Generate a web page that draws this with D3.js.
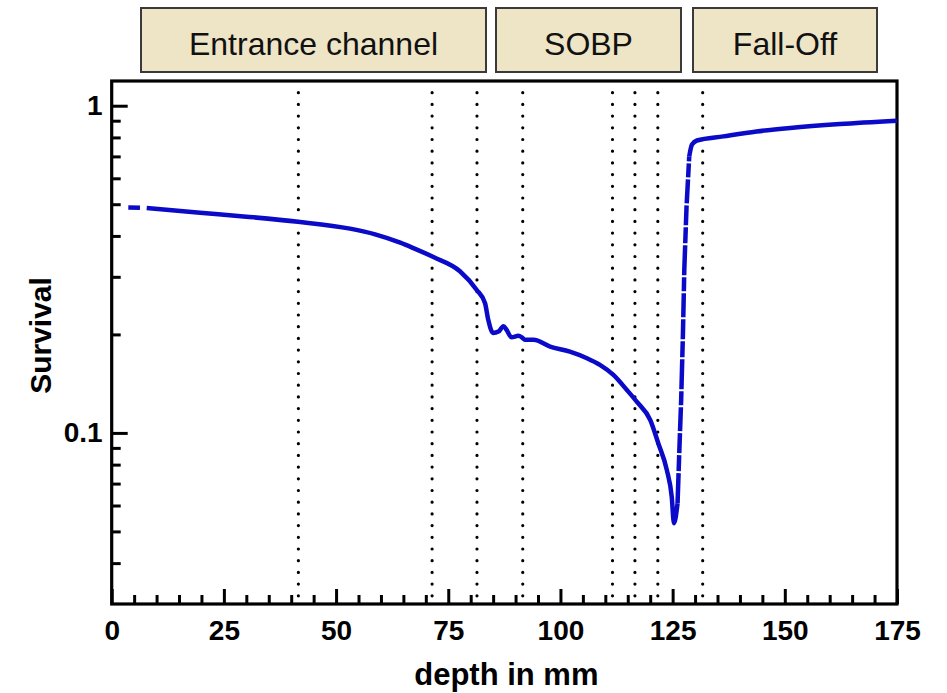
<!DOCTYPE html>
<html><head><meta charset="utf-8">
<script src="https://cdn.jsdelivr.net/npm/d3@7"></script>
<style>body{margin:0;background:#fff}svg{display:block}text{font-family:"Liberation Sans",Arial,sans-serif}</style>
</head><body><div id="chart"></div>
<script>
// ---- data ----
const depth = [3.7, 6.3, null, 7.8, 19.7, 30.0, 41.5, 53.1, 58.7, 64.3, 67.1, 71.7, 77.6, 81.3, 83.2, 83.9, 85.0, 86.2, 87.3, 88.0, 89.1, 90.6, 91.4, 92.1, 94.0, 97.7, 102.1, 105.9, 108.8, 111.8, 114.8, 117.0, 120.0, 121.8, 123.7, 124.8, 125.3, 126.1, 126.5, 126.9, 127.3, 127.6, 128.1, 128.7, 129.3, 130.4, 136.3, 143.7, 151.2, 162.3, 175];
const survival = [0.489, 0.488, null, 0.487, 0.471, 0.458, 0.442, 0.421, 0.4046, 0.3815, 0.3678, 0.3447, 0.312, 0.274, 0.249, 0.222, 0.202, 0.204, 0.212, 0.2065, 0.196, 0.198, 0.196, 0.1925, 0.1925, 0.1836, 0.1772, 0.1692, 0.1614, 0.1504, 0.1353, 0.1246, 0.1096, 0.093, 0.0771, 0.0638, 0.053, 0.061, 0.0887, 0.126, 0.2018, 0.315, 0.492, 0.70, 0.76, 0.783, 0.806, 0.834, 0.855, 0.879, 0.90];
const dottedDepths = [41.6, 71.4, 81.4, 91.6, 111.6, 116.6, 121.7, 131.7];
const regionLabels = ["Entrance channel", "SOBP", "Fall-Off"];
const xMajorTicks = [0, 25, 50, 75, 100, 125, 150, 175];
const xMinorTicks = [5,10,15,20,30,35,40,45,55,60,65,70,80,85,90,95,105,110,115,120,130,135,140,145,155,160,165,170];
const yMajorTicks = [0.1, 1];
const yMajorLabels = ["0.1", "1"];
const yMinorTicks = [0.04,0.05,0.06,0.07,0.08,0.09,0.2,0.3,0.4,0.5,0.6,0.7,0.8,0.9];
const riseRange = [126.1, 128.7]; // sparse-sampled steep rise, drawn dashed

// ---- layout ----
const W = 947, H = 693;
const L = 111.7, R = 897, T = 81, B = 604;
const svg = d3.select("#chart").append("svg").attr("width", W).attr("height", H);

const x = d3.scaleLinear().domain([0, 175]).range([L, R]);
const y = d3.scaleLog().domain([0.03, 1.19]).range([B, T]);

// region boxes
const boxes = [[141, 486], [496, 681], [693, 877]];
const bg = svg.append("g");
boxes.forEach((b, i) => {
  bg.append("rect").attr("x", b[0]).attr("y", 8).attr("width", b[1]-b[0]).attr("height", 64)
    .attr("fill", "#eee4c6").attr("stroke", "#3a3a3a").attr("stroke-width", 2);
  bg.append("text").attr("x", (b[0]+b[1])/2).attr("y", 55).attr("text-anchor", "middle")
    .attr("font-size", 32).attr("fill", "#111").text(regionLabels[i]);
});

// dotted verticals
svg.append("g").selectAll("line").data(dottedDepths).join("line")
  .attr("x1", d => x(d)).attr("x2", d => x(d)).attr("y1", 92.7).attr("y2", 600)
  .attr("stroke", "#000").attr("stroke-width", 3.2).attr("stroke-linecap", "round")
  .attr("stroke-dasharray", "0,11.7");

// axes
const fs = 28;
function styleAxis(g) {
  g.select(".domain").remove();
  g.selectAll(".tick line").attr("stroke", "#000").attr("stroke-width", 3);
  g.selectAll(".tick text").attr("font-size", fs).attr("font-weight", "bold").attr("fill", "#000")
   .attr("font-family", "'Liberation Sans', Arial, sans-serif");
}
svg.append("g").attr("transform", `translate(0,${B})`)
  .call(d3.axisBottom(x).tickValues(xMinorTicks).tickSizeInner(-9).tickSizeOuter(0).tickFormat(""))
  .call(styleAxis);
svg.append("g").attr("transform", `translate(0,${B})`)
  .call(d3.axisBottom(x).tickValues(xMajorTicks).tickSizeInner(-15).tickSizeOuter(0).tickPadding(16).tickFormat(d => d))
  .call(styleAxis);
svg.append("g").attr("transform", `translate(${L},0)`)
  .call(d3.axisLeft(y).tickValues(yMinorTicks).tickSizeInner(-9).tickSizeOuter(0).tickFormat(""))
  .call(styleAxis);
svg.append("g").attr("transform", `translate(${L},0)`)
  .call(d3.axisLeft(y).tickValues(yMajorTicks).tickSizeInner(-16).tickSizeOuter(0).tickPadding(9)
    .tickFormat((d, i) => yMajorLabels[i]))
  .call(styleAxis);

// frame
svg.append("rect").attr("x", L).attr("y", T).attr("width", R-L).attr("height", B-T)
  .attr("fill", "none").attr("stroke", "#000").attr("stroke-width", 3.2);

// curve
const pts = depth.map((d, i) => [d, survival[i]]);
const line = d3.line().defined(p => p[0] !== null && p[1] !== null)
  .x(p => x(p[0])).y(p => y(p[1])).curve(d3.curveMonotoneX);
const inRise = p => p[0] !== null && p[0] >= riseRange[0] && p[0] <= riseRange[1];
const before = pts.filter(p => p[0] === null || p[0] <= riseRange[0]);
const rise = pts.filter(inRise);
const after = pts.filter(p => p[0] !== null && p[0] >= riseRange[1]);
const blue = "#0a0ac8";
[before, after].forEach(seg => svg.append("path").datum(seg).attr("d", line).attr("fill", "none")
  .attr("stroke", blue).attr("stroke-width", 4.5).attr("stroke-linejoin", "round"));
svg.append("path").datum(rise).attr("d", d3.line().x(p => x(p[0])).y(p => y(p[1])))
  .attr("fill", "none").attr("stroke", blue).attr("stroke-width", 4.5)
  .attr("stroke-dasharray", "30,2,16,2,20,2,24,2,14,2");

// axis titles
svg.append("text").attr("x", (L+R)/2 + 2).attr("y", 685).attr("text-anchor", "middle")
  .attr("font-size", 31).attr("font-weight", "bold").text("depth in mm");
svg.append("text").attr("transform", `translate(51,${(T+B)/2 - 7}) rotate(-90)`).attr("text-anchor", "middle")
  .attr("font-size", 30).attr("font-weight", "bold").text("Survival");
</script></body></html>
